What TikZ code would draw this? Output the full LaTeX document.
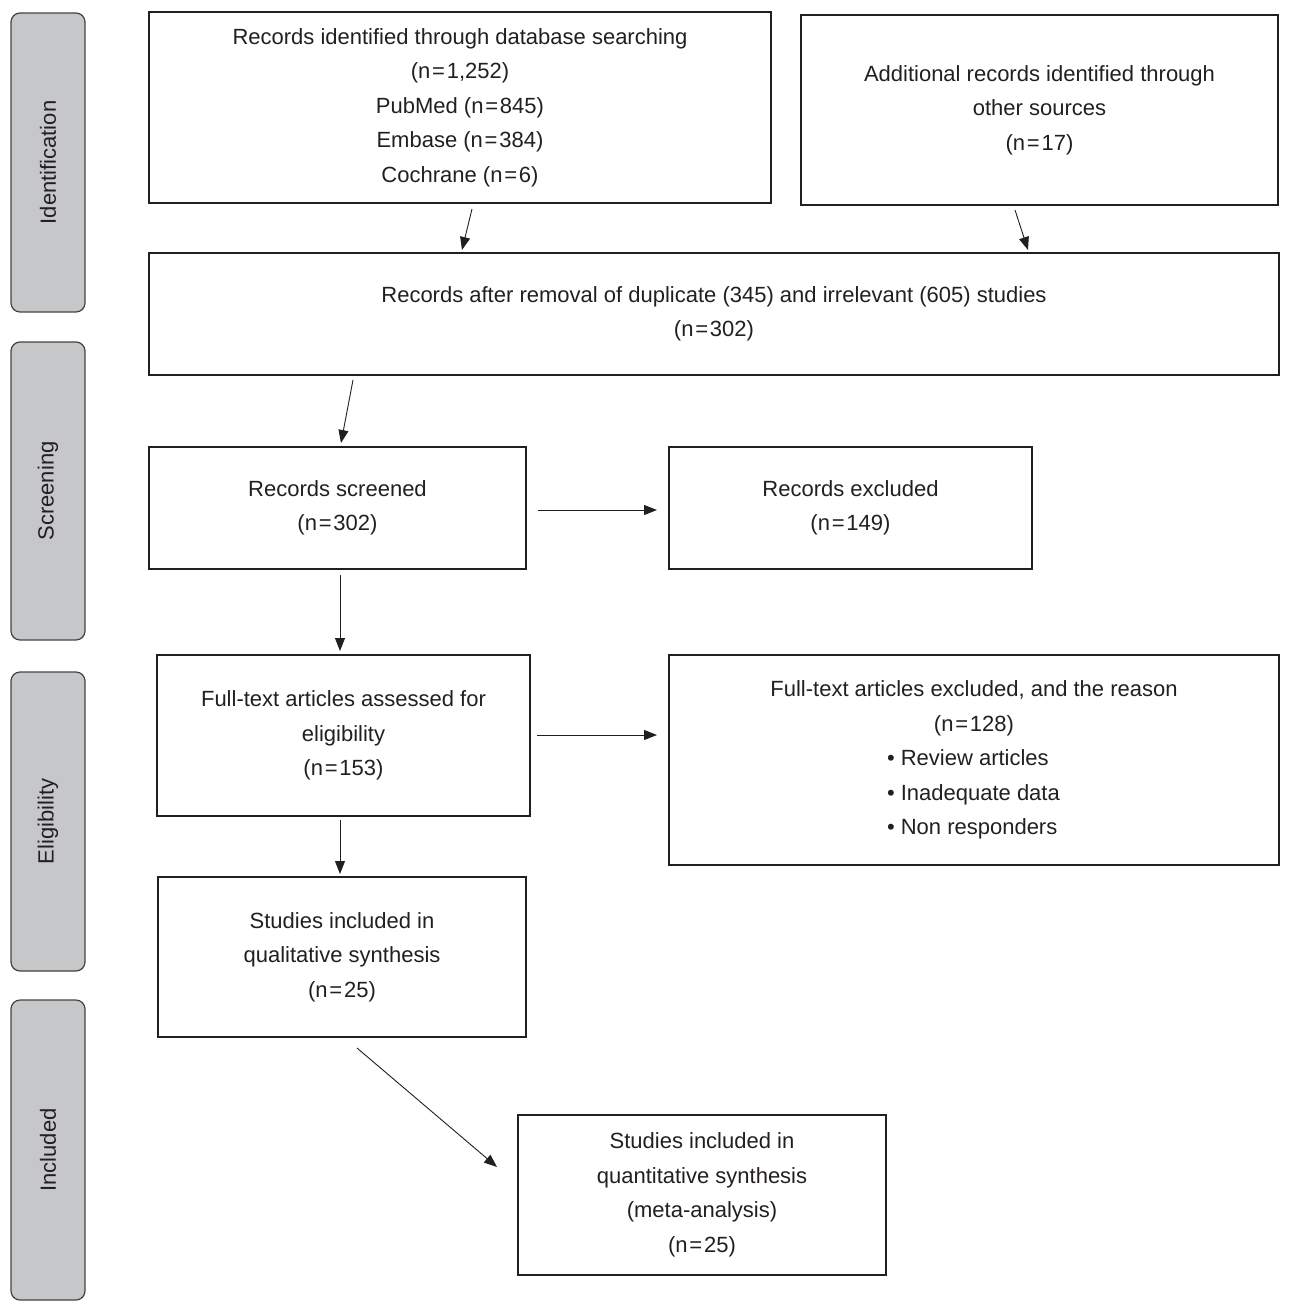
\documentclass[tikz,border=0pt]{standalone}
\usepackage{fontspec}
\setmainfont{Liberation Sans}
\usetikzlibrary{arrows.meta}
\definecolor{phasegray}{HTML}{C6C7C9}
\definecolor{ink}{HTML}{231F20}
\newcommand\eqs{\kern0.9pt=\kern0.9pt}
\newcommand\bul[1]{\makebox[87pt][l]{\textbullet\ #1}}
\begin{document}
\begin{tikzpicture}[x=0.5pt,y=-0.5pt,
  txt/.style={font=\fontsize{11}{17.25}\selectfont, text=ink},
  box/.style={txt, draw=ink, line width=0.75pt, align=center, inner sep=0pt},
  phase/.style={txt, draw=ink!85, fill=phasegray, rounded corners=4.5pt, line width=0.6pt,
    rotate=90, minimum height=37pt, inner sep=0pt},
  arr/.style={draw=ink, line width=0.45pt, -{Triangle[length=6.5pt,width=5pt]}}]
\useasboundingbox (0,0) rectangle (1290,1312);

% phase labels
\node[phase, minimum width=149.5pt] (P1) at (48,162.5) {Identification};
\node[phase, minimum width=149pt]   (P2) at (48,491)   {Screening};
\node[phase, minimum width=149.5pt] (P3) at (48,821.5) {Eligibility};
\node[phase, minimum width=150pt]   (P4) at (48,1150)  {Included};

% boxes
\node[box, minimum width=311pt, minimum height=95.5pt] (A) at (460,107.5)
  {Records identified through database searching\\(n\eqs1,252)\\PubMed (n\eqs845)\\Embase (n\eqs384)\\Cochrane (n\eqs6)};
\node[box, minimum width=238.5pt, minimum height=95pt] (B) at (1039.5,110)
  {Additional records identified through\\other sources\\(n\eqs17)};
\node[box, minimum width=565pt, minimum height=61pt] (C) at (714,314)
  {Records after removal of duplicate (345) and irrelevant (605) studies\\(n\eqs302)};
\node[box, minimum width=188.5pt, minimum height=61pt] (D) at (337.5,508)
  {Records screened\\(n\eqs302)};
\node[box, minimum width=181.5pt, minimum height=61pt] (E) at (850.5,508)
  {Records excluded\\(n\eqs149)};
\node[box, minimum width=186.5pt, minimum height=80.5pt] (F) at (343.5,735.5)
  {Full-text articles assessed for\\eligibility\\(n\eqs153)};
\node[box, minimum width=305pt, minimum height=105pt] (G) at (974,760)
  {Full-text articles excluded, and the reason\\(n\eqs128)\\\bul{Review articles}\\\bul{Inadequate data}\\\bul{Non responders}};
\node[box, minimum width=184pt, minimum height=80pt] (H) at (342,957)
  {Studies included in\\qualitative synthesis\\(n\eqs25)};
\node[box, minimum width=184pt, minimum height=80pt] (I) at (702,1195)
  {Studies included in\\quantitative synthesis\\(meta-analysis)\\(n\eqs25)};

% arrow end points
\coordinate (a1) at (472,209);  \coordinate (a2) at (462,250);
\coordinate (b1) at (1015,210); \coordinate (b2) at (1028,250);
\coordinate (c1) at (353,380);  \coordinate (c2) at (341,443);
\coordinate (d1) at (538,510);  \coordinate (d2) at (657,510);
\coordinate (d3) at (340,575);  \coordinate (d4) at (340,651);
\coordinate (f1) at (537,735);  \coordinate (f2) at (657,735);
\coordinate (f3) at (340,820);  \coordinate (f4) at (340,874);
\coordinate (h1) at (357,1048); \coordinate (h2) at (497,1167);

\draw[arr] (a1) -- (a2);
\draw[arr] (b1) -- (b2);
\draw[arr] (c1) -- (c2);
\draw[arr] (d1) -- (d2);
\draw[arr] (d3) -- (d4);
\draw[arr] (f1) -- (f2);
\draw[arr] (f3) -- (f4);
\draw[arr] (h1) -- (h2);
\end{tikzpicture}
\end{document}
